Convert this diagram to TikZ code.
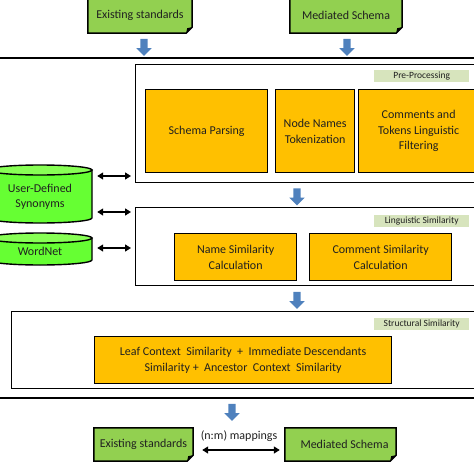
\documentclass[tikz,border=0pt]{standalone}
\usepackage{fontspec}
\setmainfont{Carlito}
\usetikzlibrary{shapes.arrows, arrows.meta, backgrounds}
\definecolor{gbox}{HTML}{92D050}
\definecolor{cylg}{HTML}{66FF33}
\definecolor{cylt}{HTML}{88FF55}
\definecolor{orng}{HTML}{FFC000}
\definecolor{lbl}{HTML}{D7E4BD}
\definecolor{barrow}{HTML}{4F81BD}
\definecolor{txt}{HTML}{202020}
\tikzset{
  maintext/.style={font=\fontsize{12}{15.5}\selectfont, text=txt},
  orangebox/.style={draw=black, line width=1.3pt, fill=orng, align=center, maintext, inner sep=0pt, anchor=north west},
  panel/.style={draw=black, line width=1.3pt, fill=white, anchor=north west, inner sep=0pt},
  tag/.style={fill=lbl, font=\fontsize{9.5}{11}\selectfont, text=txt, minimum width=95pt, minimum height=12pt, inner sep=0pt, anchor=north west},
  downarrow/.style={single arrow, fill=barrow, draw=none, shape border rotate=270, minimum height=17pt, minimum width=15pt, single arrow head extend=4pt, inner sep=3.5pt},
  dbl/.style={{Triangle[length=6pt,width=7pt]}-{Triangle[length=6pt,width=7pt]}, line width=1.3pt},
  greennode/.style={maintext, inner sep=0pt, align=center},
  fold/.style={draw=black, line width=1.5pt, fill=gbox},
  cylbody/.style={draw=black, line width=1.4pt, fill=cylg},
  cyltop/.style={draw=black, line width=1.4pt, fill=cylt},
}
\newcommand\foldshape[1]{%
  \begin{scope}[on background layer]
  \draw[fold] (#1.north west) -- (#1.north east) -- ([yshift=6pt]#1.south east) -- ([xshift=-6pt]#1.south east) -- (#1.south west) -- cycle;
  \fill[black] ([yshift=6pt]#1.south east) -- ([xshift=-6pt]#1.south east) -- ([xshift=-5pt,yshift=5pt]#1.south east) -- cycle;
  \end{scope}}
\begin{document}
\begin{tikzpicture}[x=1pt,y=-1pt]
\useasboundingbox (0,0) rectangle (474,474);
\clip (0,0) rectangle (474,474);

% outer frame lines
\draw[line width=1.5pt] (-5,58) -- (480,58);
\draw[line width=1.5pt] (-5,398) -- (480,398);

% top inputs
\node[greennode, minimum width=104pt, minimum height=35pt] (es1) at (140,15.5) {Existing standards};
\foldshape{es1}
\node[greennode, minimum width=112pt, minimum height=35pt] (ms1) at (346,15.5) {Mediated Schema};
\foldshape{ms1}

\node[downarrow] (a1) at (144,45.5) {};
\node[downarrow] (a2) at (347,45.5) {};

% Pre-processing panel
\node[panel, minimum width=345pt, minimum height=118pt] (pre) at (135,64) {};
\node[tag] (pretag) at (374,70) {Pre-Processing};
\node[orangebox, minimum width=122pt, minimum height=83pt] (sp) at (145,89) {Schema Parsing};
\node[orangebox, minimum width=79pt, minimum height=83pt] (nn) at (275,89) {Node Names\\Tokenization};
\node[orangebox, minimum width=120pt, minimum height=83pt] (cf) at (358,89) {Comments and\\Tokens Linguistic\\Filtering};

\node[downarrow] (a3) at (297,195) {};

% Linguistic panel
\node[panel, minimum width=345pt, minimum height=78pt] (ling) at (135,207) {};
\node[tag] (lingtag) at (374,215) {Linguistic Similarity};
\node[orangebox, minimum width=122pt, minimum height=47pt] (ns) at (174,233) {Name Similarity\\Calculation};
\node[orangebox, minimum width=142pt, minimum height=47pt] (cs) at (309,233) {Comment Similarity\\Calculation};

\node[downarrow] (a4) at (297,298.5) {};

% Structural panel
\node[panel, minimum width=469pt, minimum height=77pt] (struct) at (11,311) {};
\node[tag] (structtag) at (374,318) {Structural Similarity};
\node[orangebox, minimum width=297pt, minimum height=47pt] (ss) at (94,336) {Leaf Context\ \ Similarity\ \ +\ \ Immediate Descendants\\Similarity +\ \ Ancestor\ \ Context\ \ Similarity};

\node[downarrow] (a5) at (232,410.5) {};

% cylinders
\draw[cylbody] (-12,170) -- (-12,218) arc[start angle=180, end angle=0, x radius=52, y radius=5] -- (92,170) -- cycle;
\draw[cyltop] (40,170) ellipse [x radius=52, y radius=5];
\node[greennode, minimum width=104pt, minimum height=58pt] (uds) at (40,194) {};
\node[greennode] (udst) at (40,197) {User-Defined\\Synonyms};
\draw[cylbody] (-12,238) -- (-12,260) arc[start angle=180, end angle=0, x radius=52, y radius=5] -- (92,238) -- cycle;
\draw[cyltop] (40,238) ellipse [x radius=52, y radius=5];
\node[greennode, minimum width=104pt, minimum height=32pt] (wn) at (40,249) {};
\node[greennode] (wnt) at (40,251) {WordNet};

\coordinate (r1) at (0,176);
\coordinate (r2) at (0,212);
\coordinate (r3) at (0,248);
\draw[dbl, shorten <=5pt, shorten >=4pt] (uds.east |- r1) -- (pre.west |- r1);
\draw[dbl, shorten <=5pt, shorten >=4pt] (uds.east |- r2) -- (ling.west |- r2);
\draw[dbl, shorten <=5pt, shorten >=4pt] (wn.east |- r3) -- (ling.west |- r3);

% outputs
\node[greennode, minimum width=99pt, minimum height=33pt] (es2) at (143.5,444.5) {Existing standards};
\foldshape{es2}
\node[greennode, minimum width=111pt, minimum height=33pt] (ms2) at (340.5,444.5) {\hspace{8pt}Mediated Schema};
\foldshape{ms2}
\coordinate (r4) at (0,450);
\draw[dbl, shorten <=9pt, shorten >=5pt] (es2.east |- r4) -- (ms2.west |- r4) node[midway, above=4pt, maintext] (nm) {(n:m) mappings};
\end{tikzpicture}
\end{document}
